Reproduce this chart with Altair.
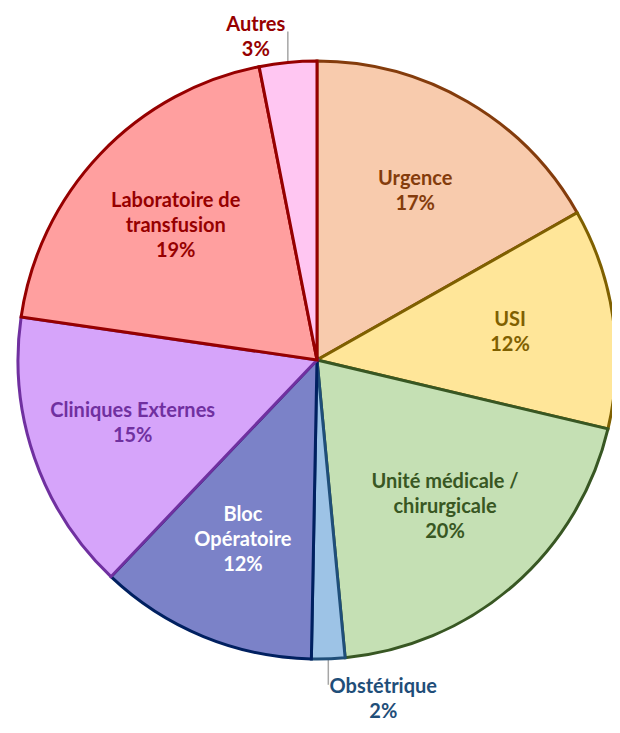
import altair as alt
import pandas as pd

categories = ["Urgence", "USI", "Unité médicale / chirurgicale", "Obstétrique",
              "Bloc Opératoire", "Cliniques Externes", "Laboratoire de transfusion", "Autres"]
label_lines = ["Urgence", "USI", "Unité médicale /\nchirurgicale", "Obstétrique",
               "Bloc\nOpératoire", "Cliniques Externes", "Laboratoire de\ntransfusion", "Autres"]
values = [16.8, 11.9, 19.8, 1.8, 11.8, 15.2, 19.6, 3.1]
pct_labels = ["17%", "12%", "20%", "2%", "12%", "15%", "19%", "3%"]
outside = [False, False, False, True, False, False, False, True]

fills = ["#F8CBAD", "#FFE699", "#C5E0B4", "#9DC3E6", "#7B82C8", "#D6A4FA", "#FF9F9F", "#FFC6F2"]
strokes = ["#843C0C", "#7F6000", "#385723", "#1F4E79", "#002060", "#7030A0", "#960000", "#960000"]
text_colors = ["#843C0C", "#7F6000", "#385723", "#1F4E79", "#FFFFFF", "#7030A0", "#960000", "#960000"]

df = pd.DataFrame({
    "idx": list(range(len(categories))),
    "cat": categories,
    "value": values,
    "label": [l + "\n" + p for l, p in zip(label_lines, pct_labels)],
    "outside": outside,
})

CX, CY, R = 309, 352, 299
LH = 25
R_IN = 195
tscale = alt.Scale(domain=[0, 100], range=[0, 6.283185307179586])

base = alt.Chart(df).transform_window(
    cum="sum(value)", sort=[{"field": "idx"}], frame=[None, 0]
).transform_calculate(
    start="datum.cum - datum.value",
    mid="datum.cum - datum.value / 2",
).transform_calculate(
    ang="datum.mid / 100 * 2 * PI",
    nl="length(split(datum.label, '\\n'))",
)

arcs = base.mark_arc(outerRadius=R, strokeWidth=3, strokeJoin="miter").encode(
    theta=alt.Theta("start:Q", scale=tscale),
    theta2="cum:Q",
    fill=alt.Fill("cat:N", scale=alt.Scale(domain=categories, range=fills), legend=None),
    stroke=alt.Stroke("cat:N", scale=alt.Scale(domain=categories, range=strokes), legend=None),
    order=alt.Order("idx:Q"),
    x=alt.value(CX),
    y=alt.value(CY),
)

text_common = dict(font="Lato", fontSize=20, fontWeight="bold", lineBreak="\n",
                   lineHeight=LH, align="center", baseline="middle")

color_enc = alt.Color("cat:N", scale=alt.Scale(domain=categories, range=text_colors), legend=None)

inner = base.transform_filter("!datum.outside").transform_calculate(
    tx=f"{CX} + {R_IN} * sin(datum.ang)",
    ty=f"{CY} - {R_IN} * cos(datum.ang) - (datum.nl - 1) * {LH} / 2",
).mark_text(**text_common).encode(
    x=alt.X("tx:Q", scale=None),
    y=alt.Y("ty:Q", scale=None),
    text="label:N",
    color=color_enc,
)

lead = base.transform_filter("datum.outside").transform_calculate(
    lx=f"{CX} + {R + 1} * sin(datum.ang)",
    ly=f"{CY} - {R + 1} * cos(datum.ang)",
).transform_calculate(
    ly2="cos(datum.ang) < 0 ? datum.ly + 25 : datum.ly - 30",
)

leaders = lead.mark_rule(color="#A6A6A6", strokeWidth=1.5).encode(
    x=alt.X("lx:Q", scale=None),
    y=alt.Y("ly:Q", scale=None),
    y2="ly2:Q",
)

obst = lead.transform_filter("datum.cat == 'Obstétrique'").transform_calculate(
    ty=f"datum.ly2 + 15 - (datum.nl - 1) * {LH} / 2",
).mark_text(dx=55, **text_common).encode(
    x=alt.X("lx:Q", scale=None),
    y=alt.Y("ty:Q", scale=None),
    text="label:N",
    color=color_enc,
)

autres = lead.transform_filter("datum.cat == 'Autres'").transform_calculate(
    ty=f"datum.ly2 + 6 - (datum.nl - 1) * {LH} / 2",
).mark_text(dx=-32, **text_common).encode(
    x=alt.X("lx:Q", scale=None),
    y=alt.Y("ty:Q", scale=None),
    text="label:N",
    color=color_enc,
)

chart = alt.layer(leaders, arcs, inner, obst, autres).properties(
    width=604, height=717, padding=0, autosize=alt.AutoSizeParams(type="none")
).configure_view(stroke=None)

chart.save("out.html", embed_options={"renderer": "svg", "actions": False})
